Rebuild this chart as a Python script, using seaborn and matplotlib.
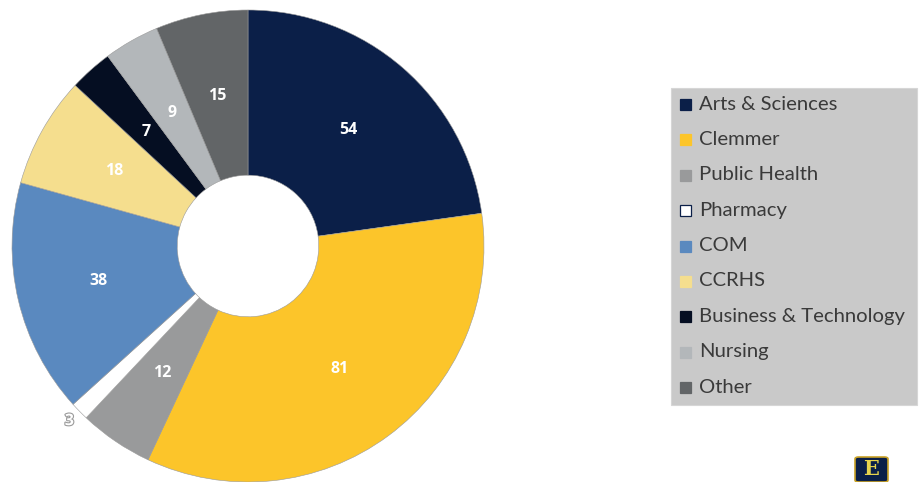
import matplotlib
matplotlib.use("Agg")
import matplotlib.pyplot as plt
import matplotlib.patheffects as pe
from matplotlib.patches import Rectangle, FancyBboxPatch
import numpy as np
import seaborn as sns

# Enrollment by college
categories = ["Arts & Sciences", "Clemmer", "Public Health", "Pharmacy", "COM",
              "CCRHS", "Business & Technology", "Nursing", "Other"]
counts = [54, 81, 12, 3, 38, 18, 7, 9, 15]
colors = ["#0B1F48", "#FCC52A", "#999A9B", "#FFFFFF", "#5A89BF",
          "#F5DE8E", "#050E22", "#B3B7BA", "#626567"]

sns.set_theme(style="white")
plt.rcParams["font.family"] = ["Lato", "DejaVu Sans"]

fig = plt.figure(figsize=(9.22, 4.82), dpi=100)
fig.patch.set_facecolor("white")

# Donut
ax = fig.add_axes([12 / 922, 0.0, 472 / 922, 472 / 482])
wedges, _ = ax.pie(
    counts, colors=colors, startangle=90, counterclock=False,
    radius=1.0, wedgeprops=dict(width=0.70, edgecolor="#9a9a9a", linewidth=0.4),
)
ax.set_xlim(-1, 1)
ax.set_ylim(-1, 1)
ax.set_aspect("equal")
ax.axis("off")

total = sum(counts)
cum = 0
for v in counts:
    mid = (cum + v / 2) / total * 2 * np.pi
    cum += v
    if v < 5:
        r = 1.06
        ax.text(r * np.sin(mid), r * np.cos(mid), str(v), ha="center", va="center",
                color="white", fontsize=11.5, fontweight="bold",
                family=["Open Sans", "DejaVu Sans"],
                path_effects=[pe.withStroke(linewidth=1.6, foreground="#9a9a9a")])
    else:
        r = 0.65
        ax.text(r * np.sin(mid), r * np.cos(mid), str(v), ha="center", va="center",
                color="white", fontsize=11.5, fontweight="bold",
                family=["Open Sans", "DejaVu Sans"])

# Legend panel
lx0, ly0, lx1, ly1 = 671, 88, 917, 405
fig.patches.append(Rectangle((lx0 / 922, 1 - ly1 / 482), (lx1 - lx0) / 922, (ly1 - ly0) / 482,
                             transform=fig.transFigure, facecolor="#C9C9C9",
                             edgecolor="#d6d6d6", linewidth=0.8, zorder=1))
y_first, step = 104, 35.4
for i, (name, c) in enumerate(zip(categories, colors)):
    y = y_first + i * step
    ec = "#0B1F48" if c == "#FFFFFF" else c
    fig.patches.append(Rectangle((680 / 922, 1 - (y + 6) / 482), 11 / 922, 11 / 482,
                                 transform=fig.transFigure, facecolor=c, edgecolor=ec,
                                 linewidth=0.9, zorder=2))
    fig.text(699 / 922, 1 - y / 482, name, ha="left", va="center",
             fontsize=14.6, color="#3a3a3a", zorder=3)

# University shield mark
fig.patches.append(FancyBboxPatch((855 / 922, 1 - 482 / 482), 33 / 922, 25 / 482,
                                  boxstyle="round,pad=0,rounding_size=0.004",
                                  transform=fig.transFigure, facecolor="#0B1F48",
                                  edgecolor="#C9A227", linewidth=1.2, zorder=2))
fig.text(871.5 / 922, 1 - 469 / 482, "E", ha="center", va="center", fontsize=15,
         family=["DejaVu Serif"], fontweight="bold", color="#E8D44D", zorder=3)

fig.savefig("out.png", dpi=100, facecolor="white")
